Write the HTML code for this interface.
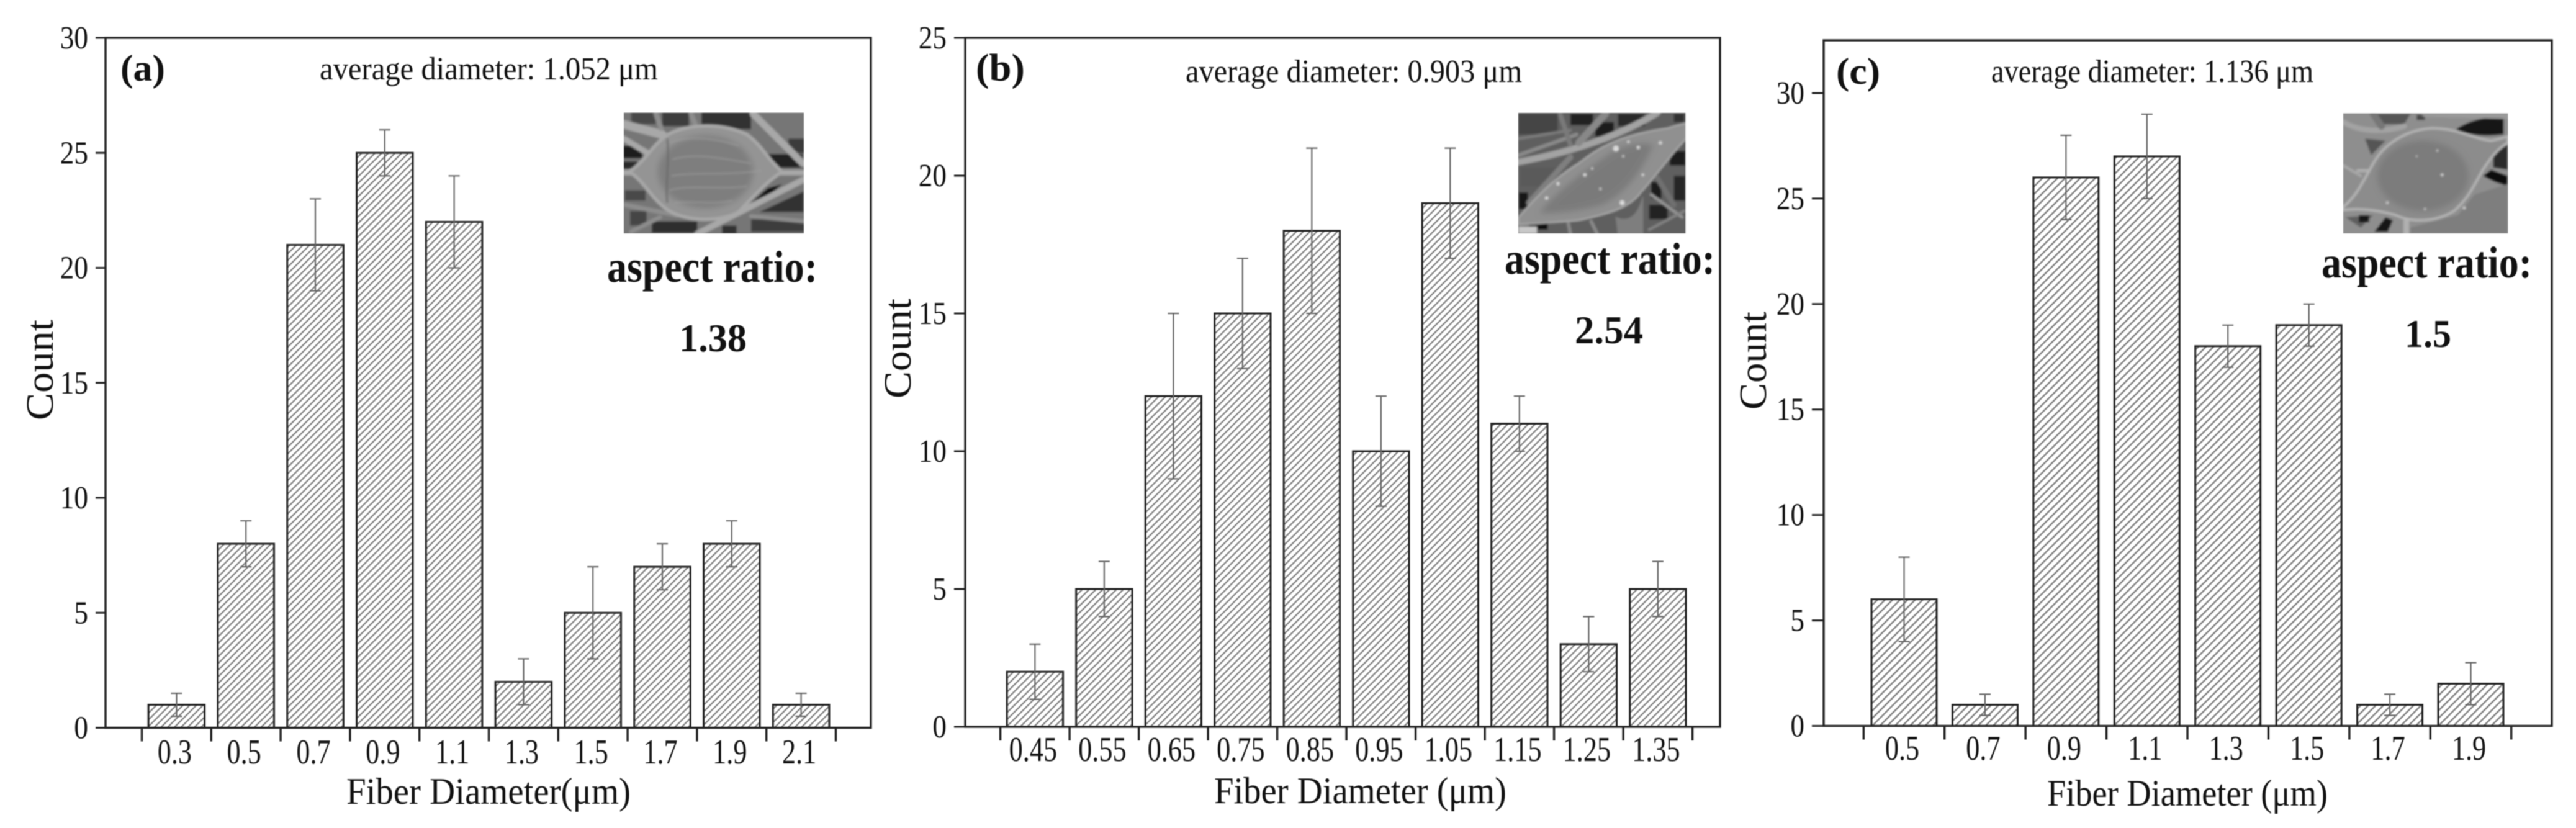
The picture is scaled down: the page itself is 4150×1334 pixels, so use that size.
<!DOCTYPE html>
<html lang="en">
<head>
<meta charset="utf-8">
<title>Fiber diameter histograms</title>
<style>
  html, body { margin: 0; padding: 0; background: #fff; }
  #figure { display: block; width: 4150px; height: 1334px; filter: blur(0.8px); }
  text { font-family: "Liberation Serif", "DejaVu Serif", serif; fill: #111; }
  .b { font-weight: bold; }
</style>
</head>
<body>
<svg id="figure" xmlns="http://www.w3.org/2000/svg" width="4150" height="1334" viewBox="0 0 4150 1334">
  <defs>
    <pattern id="hatch-a" patternUnits="userSpaceOnUse" width="7.6" height="7.6" patternTransform="rotate(45)">
      <rect width="7.6" height="7.6" fill="#fff"/><rect width="2.3" height="7.6" fill="#7e7e7e"/>
    </pattern>
    <pattern id="hatch-b" patternUnits="userSpaceOnUse" width="7.8" height="7.8" patternTransform="rotate(45)">
      <rect width="7.8" height="7.8" fill="#fff"/><rect width="2.3" height="7.8" fill="#7e7e7e"/>
    </pattern>
    <pattern id="hatch-c" patternUnits="userSpaceOnUse" width="8.6" height="8.6" patternTransform="rotate(45)">
      <rect width="8.6" height="8.6" fill="#fff"/><rect width="2.5" height="8.6" fill="#7e7e7e"/>
    </pattern>
    <filter id="soft" x="-10%" y="-10%" width="120%" height="120%"><feGaussianBlur stdDeviation="14"/></filter>
    <filter id="inset-blur" x="-2%" y="-2%" width="104%" height="104%"><feGaussianBlur stdDeviation="5"/></filter>
    <clipPath id="clip-a"><rect x="165" y="65" width="870" height="583"/></clipPath>
    <clipPath id="clip-b"><rect x="48" y="36" width="808" height="582"/></clipPath>
    <clipPath id="clip-c"><rect x="45" y="38" width="796" height="580"/></clipPath>
  </defs>

  <g id="panel-a"></g>
  <g id="panel-b"></g>
  <g id="panel-c"></g>

  <!-- Panel a annotations -->
  <text class="b" x="194" y="130" font-size="60" textLength="72" lengthAdjust="spacingAndGlyphs">(a)</text>
  <text x="515" y="128" font-size="52" textLength="545" lengthAdjust="spacingAndGlyphs">average diameter: 1.052 μm</text>
  <text class="b" x="978" y="454" font-size="72" textLength="339" lengthAdjust="spacingAndGlyphs">aspect ratio:</text>
  <text class="b" x="1094" y="566" font-size="64" textLength="109" lengthAdjust="spacingAndGlyphs">1.38</text>
  <text x="558" y="1295" font-size="60" textLength="458" lengthAdjust="spacingAndGlyphs">Fiber Diameter(μm)</text>
  <text transform="translate(85,677) rotate(-90)" font-size="62" textLength="162" lengthAdjust="spacingAndGlyphs">Count</text>

  <!-- Panel b annotations -->
  <text class="b" x="1572" y="130" font-size="62" textLength="79" lengthAdjust="spacingAndGlyphs">(b)</text>
  <text x="1910" y="132" font-size="52" textLength="542" lengthAdjust="spacingAndGlyphs">average diameter: 0.903 μm</text>
  <text class="b" x="2424" y="441" font-size="72" textLength="339" lengthAdjust="spacingAndGlyphs">aspect ratio:</text>
  <text class="b" x="2537" y="553" font-size="64" textLength="110" lengthAdjust="spacingAndGlyphs">2.54</text>
  <text x="1956" y="1294" font-size="60" textLength="471" lengthAdjust="spacingAndGlyphs">Fiber Diameter (μm)</text>
  <text transform="translate(1467,642) rotate(-90)" font-size="62" textLength="161" lengthAdjust="spacingAndGlyphs">Count</text>

  <!-- Panel c annotations -->
  <text class="b" x="2958" y="135" font-size="60" textLength="71" lengthAdjust="spacingAndGlyphs">(c)</text>
  <text x="3208" y="132" font-size="52" textLength="519" lengthAdjust="spacingAndGlyphs">average diameter: 1.136 μm</text>
  <text class="b" x="3740" y="447" font-size="72" textLength="339" lengthAdjust="spacingAndGlyphs">aspect ratio:</text>
  <text class="b" x="3874" y="559" font-size="64" textLength="75" lengthAdjust="spacingAndGlyphs">1.5</text>
  <text x="3298" y="1298" font-size="60" textLength="452" lengthAdjust="spacingAndGlyphs">Fiber Diameter (μm)</text>
  <text transform="translate(2845,660) rotate(-90)" font-size="62" textLength="158" lengthAdjust="spacingAndGlyphs">Count</text>

  <!-- Inset SEM micrograph a -->
  <g transform="translate(950,160) scale(0.3333)">
    <g clip-path="url(#clip-a)">
      <g filter="url(#inset-blur)">
      <rect x="150" y="50" width="900" height="610" fill="#767676"/>
      <g>
        <rect x="200" y="60" width="120" height="60" fill="#4a4a4a"/>
        <rect x="350" y="60" width="130" height="70" fill="#3c3c3c"/>
        <rect x="540" y="60" width="240" height="85" fill="#333"/>
        <rect x="960" y="190" width="80" height="70" fill="#3a3a3a"/>
        <rect x="160" y="225" width="95" height="60" fill="#1c1c1c"/>
        <rect x="160" y="300" width="70" height="35" fill="#2c2c2c"/>
        <rect x="860" y="265" width="170" height="65" fill="#222"/>
        <path d="M770 510L860 430L930 410L800 520Z" fill="#111"/>
        <path d="M820 545L1035 445V545Z" fill="#333"/>
        <rect x="780" y="580" width="260" height="60" fill="#3d3d3d"/>
        <rect x="300" y="590" width="220" height="55" fill="#2d2d2d"/>
        <rect x="195" y="540" width="80" height="70" fill="#444"/>
        <rect x="170" y="440" width="100" height="50" fill="#4a4a4a"/>
        <rect x="640" y="610" width="70" height="40" fill="#333"/>
      </g>
      <g fill="none" stroke="#a8a8a8" stroke-linecap="round">
        <path d="M160 120L350 170" stroke-width="42"/>
        <path d="M165 190L280 260" stroke-width="28"/>
        <path d="M790 70L1030 310" stroke-width="34"/>
        <path d="M165 355H1040" stroke-width="26"/>
        <path d="M520 650L1040 385" stroke-width="30"/>
        <path d="M170 510L420 560" stroke-width="22" stroke="#8d8d8d"/>
        <path d="M320 70L345 140M490 70L510 120" stroke-width="24" stroke="#8d8d8d"/>
        <path d="M780 565L1040 590" stroke-width="20" stroke="#8d8d8d"/>
        <path d="M200 640L340 570" stroke-width="20" stroke="#8d8d8d"/>
      </g>
      <path d="M190 350C260 310 300 225 370 175C450 125 620 105 760 170C830 220 860 290 930 350C860 395 780 480 720 545C640 590 470 600 370 530C290 470 260 390 190 350Z" fill="#949494" stroke="#a8a8a8" stroke-width="16"/>
      <ellipse cx="560" cy="350" rx="230" ry="175" fill="#7e7e7e" filter="url(#soft)"/>
      <g fill="none" stroke="#a2a2a2" stroke-width="9" opacity=".45">
        <path d="M390 210C470 175 600 185 720 225M400 290C500 260 620 280 780 310M395 370C500 350 650 370 830 345M385 440C480 410 620 440 760 420M410 500C500 490 600 510 690 490"/>
      </g>
      <path d="M375 190C385 300 365 420 375 500" fill="none" stroke="#6a6a6a" stroke-width="8"/>
      </g>
    </g>
  </g>

  <!-- Inset SEM micrograph b -->
  <g transform="translate(2430,170) scale(0.3333)">
    <g clip-path="url(#clip-b)">
      <g filter="url(#inset-blur)">
      <rect x="30" y="20" width="840" height="610" fill="#5f5f5f"/>
      <g>
        <rect x="48" y="40" width="190" height="100" fill="#454545"/>
        <rect x="300" y="40" width="110" height="55" fill="#222"/>
        <rect x="420" y="80" width="90" height="70" fill="#1f1f1f"/>
        <rect x="530" y="40" width="130" height="60" fill="#2c2c2c"/>
        <rect x="800" y="40" width="50" height="40" fill="#333"/>
        <rect x="50" y="420" width="45" height="80" fill="#161616"/>
        <rect x="690" y="370" width="50" height="80" fill="#1d1d1d"/>
        <rect x="780" y="220" width="76" height="70" fill="#1e1e1e"/>
        <rect x="800" y="340" width="56" height="120" fill="#262626"/>
        <rect x="680" y="480" width="90" height="70" fill="#242424"/>
        <rect x="100" y="570" width="90" height="30" fill="#0f0f0f"/>
        <rect x="60" y="300" width="170" height="90" fill="#5a5a5a"/>
      </g>
      <g fill="none" stroke="#a3a3a3" stroke-linecap="round">
        <path d="M40 275C250 235 500 170 720 35" stroke-width="32"/>
        <path d="M50 240L330 140" stroke-width="18" stroke="#8a8a8a"/>
        <path d="M50 160L300 120" stroke-width="14" stroke="#7c7c7c"/>
        <path d="M340 180L470 40" stroke-width="34" stroke="#888"/>
        <path d="M250 40L300 190" stroke-width="22" stroke="#7a7a7a"/>
        <path d="M100 470L300 250" stroke-width="28" stroke="#7f7f7f"/>
        <path d="M690 430L840 540" stroke-width="14" stroke="#949494"/>
        <path d="M720 350L800 480" stroke-width="26" stroke="#6f6f6f"/>
        <path d="M520 540C560 560 620 560 650 440V620H530Z" stroke-width="4" stroke="#7e7e7e" fill="#7e7e7e"/>
        <path d="M400 560L430 620M290 570L300 620" stroke-width="16" stroke="#8a8a8a"/>
        <path d="M680 600L850 510" stroke-width="12" stroke="#858585"/>
      </g>
      <path d="M50 540C120 460 220 350 340 280C450 190 560 140 770 110C800 100 840 90 860 85V160C790 230 730 320 640 420C590 490 500 520 340 555C240 565 120 570 50 575Z" fill="#909090" stroke="#a8a8a8" stroke-width="8"/>
      <path d="M150 520C230 420 360 320 510 220C600 180 660 180 700 190C650 300 580 420 450 480C340 510 240 520 150 520Z" fill="#7a7a7a" filter="url(#soft)"/>
      <g fill="#dcdcdc">
        <circle cx="520" cy="208" r="14"/><circle cx="628" cy="203" r="8"/><circle cx="735" cy="180" r="8"/><circle cx="580" cy="175" r="6"/>
        <circle cx="370" cy="335" r="8"/><circle cx="240" cy="378" r="8"/><circle cx="185" cy="447" r="8"/><circle cx="550" cy="470" r="12"/>
        <circle cx="445" cy="403" r="5"/><circle cx="405" cy="305" r="5"/><circle cx="650" cy="335" r="6"/><circle cx="555" cy="245" r="5"/>
      </g>
      <rect x="48" y="585" width="90" height="33" fill="#c8c8c8"/>
      </g>
    </g>
  </g>

  <!-- Inset SEM micrograph c -->
  <g transform="translate(3760,170) scale(0.3333)">
    <g clip-path="url(#clip-c)">
      <g filter="url(#inset-blur)">
      <rect x="30" y="20" width="830" height="610" fill="#8e8e8e"/>
      <g>
        <path d="M200 40H370L340 90H230Z" fill="#565656"/>
        <path d="M590 115C640 80 720 50 820 60V140C730 150 650 145 590 115Z" fill="#161616"/>
        <path d="M150 160L250 170L180 240Z" fill="#555"/>
        <path d="M770 230L840 190V310L770 300Z" fill="#2c2c2c"/>
        <path d="M720 340L760 310L840 340V390L780 370Z" fill="#111"/>
        <path d="M55 540L190 530L130 590Z" fill="#5e5e5e"/>
        <rect x="120" y="530" width="50" height="35" fill="#121212"/>
        <path d="M195 610L250 540L285 555L260 610Z" fill="#131313"/>
        <rect x="400" y="45" width="40" height="25" fill="#4a4a4a"/>
        <path d="M370 590L600 530L680 430L840 380V618H370Z" fill="#7e7e7e"/>
      </g>
      <g fill="none" stroke-linecap="round">
        <path d="M45 80C130 130 240 130 340 100" stroke="#a3a3a3" stroke-width="26"/>
        <path d="M190 40L230 100" stroke="#777" stroke-width="34"/>
        <path d="M45 290L130 340" stroke="#a9a9a9" stroke-width="12"/>
        <path d="M115 315H190" stroke="#b0b0b0" stroke-width="14"/>
        <path d="M440 40L840 50" stroke="#9a9a9a" stroke-width="30"/>
        <path d="M350 560V618" stroke="#b0b0b0" stroke-width="28"/>
      </g>
      <path d="M45 490C110 440 150 350 190 280C240 190 340 120 470 110C600 110 670 160 760 170C790 165 820 155 840 150V180C790 210 760 250 720 310C680 380 650 450 580 510C500 560 380 570 300 530C210 505 120 495 45 505Z" fill="#8c8c8c" stroke="#b4b4b4" stroke-width="12"/>
      <ellipse cx="430" cy="340" rx="220" ry="170" fill="#7c7c7c" filter="url(#soft)"/>
      <g fill="#d0d0d0"><circle cx="523" cy="335" r="7"/><circle cx="500" cy="218" r="5"/><circle cx="258" cy="470" r="6"/><circle cx="400" cy="245" r="4"/><circle cx="630" cy="495" r="7"/><circle cx="440" cy="500" r="5"/></g>
      </g>
    </g>
  </g>

  <script>
    // Panel (a) data
    const aCategories = ['0.3', '0.5', '0.7', '0.9', '1.1', '1.3', '1.5', '1.7', '1.9', '2.1'];
    const aCounts = [1, 8, 21, 25, 22, 2, 5, 7, 8, 1];
    const aErrLow = [0.5, 7, 19, 24, 20, 1, 3, 6, 7, 0.5];
    const aErrHigh = [1.5, 9, 23, 26, 24, 3, 7, 8, 9, 1.5];
    const aYTicks = [0, 5, 10, 15, 20, 25, 30];

    // Panel (b) data
    const bCategories = ['0.45', '0.55', '0.65', '0.75', '0.85', '0.95', '1.05', '1.15', '1.25', '1.35'];
    const bCounts = [2, 5, 12, 15, 18, 10, 19, 11, 3, 5];
    const bErrLow = [1, 4, 9, 13, 15, 8, 17, 10, 2, 4];
    const bErrHigh = [3, 6, 15, 17, 21, 12, 21, 12, 4, 6];
    const bYTicks = [0, 5, 10, 15, 20, 25];

    // Panel (c) data
    const cCategories = ['0.5', '0.7', '0.9', '1.1', '1.3', '1.5', '1.7', '1.9'];
    const cCounts = [6, 1, 26, 27, 18, 19, 1, 2];
    const cErrLow = [4, 0.5, 24, 25, 17, 18, 0.5, 1];
    const cErrHigh = [8, 1.5, 28, 29, 19, 20, 1.5, 3];
    const cYTicks = [0, 5, 10, 15, 20, 25, 30];

    const NS = 'http://www.w3.org/2000/svg';

    function shape(parent, tag, attrs) {
      const node = document.createElementNS(NS, tag);
      Object.keys(attrs).forEach(function (k) { node.setAttribute(k, attrs[k]); });
      parent.appendChild(node);
      return node;
    }

    function drawPanel(cfg) {
      const root = document.getElementById(cfg.id);
      const yScale = function (v) { return cfg.bottom - (v / cfg.yMax) * (cfg.bottom - cfg.top); };
      const step = (cfg.tickEnd - cfg.tickStart) / cfg.categories.length;
      const xCenter = function (i) { return cfg.tickStart + step * (i + 0.5); };
      const barW = step * cfg.barFraction;

      // Bars
      cfg.counts.forEach(function (v, i) {
        const bar = shape(root, 'rect', {
          x: xCenter(i) - barW / 2, y: yScale(v), width: barW, height: cfg.bottom - yScale(v),
          fill: 'url(#' + cfg.hatch + ')', stroke: '#222', 'stroke-width': 3
        });
        
        
      });

      // Error bars
      cfg.counts.forEach(function (v, i) {
        const cx = xCenter(i);
        const d = 'M' + cx + ' ' + yScale(cfg.errLow[i]) + 'V' + yScale(cfg.errHigh[i]) +
          'M' + (cx - 9) + ' ' + yScale(cfg.errHigh[i]) + 'h18' +
          'M' + (cx - 9) + ' ' + yScale(cfg.errLow[i]) + 'h18';
        const err = shape(root, 'path', { d: d, fill: 'none', stroke: '#666', 'stroke-width': 2.2 });
        
        
      });

      // Frame
      const frame = shape(root, 'rect', {
        x: cfg.left, y: cfg.top, width: cfg.right - cfg.left, height: cfg.bottom - cfg.top,
        fill: 'none', stroke: '#222', 'stroke-width': 3.4
      });
      
      

      // Y axis
      cfg.yTicks.forEach(function (t) {
        const y = yScale(t);
        const tick = shape(root, 'line', { x1: cfg.left - cfg.yTickLen, x2: cfg.left, y1: y, y2: y, stroke: '#222', 'stroke-width': 3 });
        
        
        const label = shape(root, 'text', {
          transform: 'translate(' + (cfg.left - cfg.yTickLen - 12) + ',' + (y + 17) + ') scale(0.87,1)',
          'font-size': 52, 'text-anchor': 'end'
        });
        label.textContent = String(t);
        
        
      });

      // X axis ticks
      for (let i = 0; i <= cfg.categories.length; i++) {
        const x = cfg.tickStart + step * i;
        const tick = shape(root, 'line', { x1: x, x2: x, y1: cfg.bottom, y2: cfg.bottom + 22, stroke: '#222', 'stroke-width': 3.4 });
        
        
      }
      // X axis labels
      cfg.categories.forEach(function (c, i) {
        const label = shape(root, 'text', {
          transform: 'translate(' + (xCenter(i) - 3) + ',' + cfg.xLabelY + ') scale(0.79,1)',
          'font-size': 56, 'text-anchor': 'middle'
        });
        label.textContent = c;
        
        
      });
    }

    drawPanel({
      id: 'panel-a', categories: aCategories, counts: aCounts, errLow: aErrLow, errHigh: aErrHigh, yTicks: aYTicks,
      yMax: 30, left: 170, right: 1403, top: 61, bottom: 1172.5, yTickLen: 16,
      tickStart: 228.5, tickEnd: 1346.5, barFraction: 0.81, xLabelY: 1230, hatch: 'hatch-a'
    });
    drawPanel({
      id: 'panel-b', categories: bCategories, counts: bCounts, errLow: bErrLow, errHigh: bErrHigh, yTicks: bYTicks,
      yMax: 25, left: 1555, right: 2771, top: 61, bottom: 1171, yTickLen: 18,
      tickStart: 1611.6, tickEnd: 2726.6, barFraction: 0.81, xLabelY: 1226, hatch: 'hatch-b'
    });
    drawPanel({
      id: 'panel-c', categories: cCategories, counts: cCounts, errLow: cErrLow, errHigh: cErrHigh, yTicks: cYTicks,
      yMax: 32.5, left: 2938, right: 4111, top: 65, bottom: 1169.5, yTickLen: 19,
      tickStart: 3002.3, tickEnd: 4045.7, barFraction: 0.805, xLabelY: 1224, hatch: 'hatch-c'
    });
  </script>
</svg>
</body>
</html>
